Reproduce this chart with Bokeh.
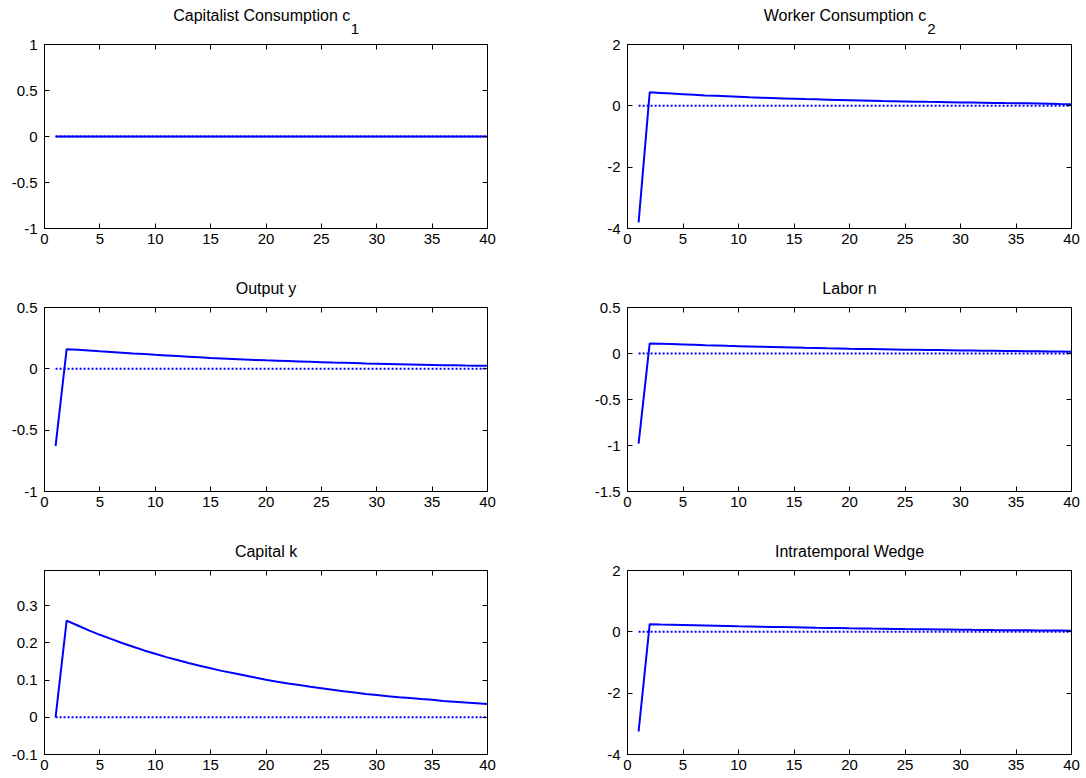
from bokeh.plotting import figure
from bokeh.layouts import column, row
from bokeh.models import Range1d, LinearAxis, FixedTicker, NumeralTickFormatter, Title
from bokeh.embed import file_html
from bokeh.resources import INLINE

# ---- data (impulse responses, periods 1..40) ----
periods = list(range(1, 41))
zero_line = [0] * 40

c1 = [0] * 40
c2 = [-3.8, 0.44, 0.42, 0.40, 0.38, 0.36, 0.34, 0.325, 0.31, 0.295,
      0.28, 0.267, 0.255, 0.243, 0.232, 0.221, 0.211, 0.201, 0.192, 0.183,
      0.174, 0.166, 0.158, 0.151, 0.144, 0.137, 0.130, 0.124, 0.118, 0.112,
      0.106, 0.101, 0.096, 0.091, 0.088, 0.082, 0.075, 0.068, 0.061, 0.055]
output_y = [-0.63, 0.16, 0.155, 0.15, 0.143, 0.137, 0.131, 0.125, 0.12, 0.114,
            0.109, 0.104, 0.099, 0.094, 0.089, 0.085, 0.081, 0.077, 0.073, 0.069,
            0.066, 0.063, 0.06, 0.057, 0.054, 0.051, 0.049, 0.047, 0.044, 0.042,
            0.04, 0.038, 0.036, 0.034, 0.032, 0.030, 0.029, 0.027, 0.026, 0.025]
labor_n = [-0.98, 0.11, 0.106, 0.102, 0.098, 0.094, 0.09, 0.087, 0.083, 0.08,
           0.077, 0.074, 0.071, 0.068, 0.065, 0.062, 0.06, 0.057, 0.055, 0.052,
           0.05, 0.048, 0.046, 0.044, 0.042, 0.04, 0.038, 0.037, 0.035, 0.033,
           0.032, 0.03, 0.029, 0.027, 0.026, 0.025, 0.024, 0.022, 0.021, 0.02]
capital_k = [0.0, 0.26, 0.247, 0.234, 0.222, 0.211, 0.200, 0.190, 0.180, 0.171,
             0.162, 0.154, 0.146, 0.139, 0.132, 0.125, 0.119, 0.113, 0.107, 0.101,
             0.096, 0.091, 0.087, 0.082, 0.078, 0.074, 0.070, 0.067, 0.063, 0.060,
             0.057, 0.054, 0.052, 0.049, 0.047, 0.044, 0.042, 0.040, 0.038, 0.036]
wedge = [-3.25, 0.25, 0.24, 0.232, 0.224, 0.215, 0.207, 0.199, 0.191, 0.183,
         0.176, 0.168, 0.161, 0.154, 0.147, 0.141, 0.134, 0.128, 0.122, 0.116,
         0.111, 0.105, 0.1, 0.095, 0.09, 0.086, 0.081, 0.077, 0.073, 0.069,
         0.065, 0.062, 0.058, 0.055, 0.052, 0.049, 0.046, 0.043, 0.041, 0.038]

titles = ["Capitalist Consumption c", "Worker Consumption c",
          "Output y", "Labor n", "Capital k", "Intratemporal Wedge"]
subscripts = ["1", "2", "", "", "", ""]
x_ticks = [0, 5, 10, 15, 20, 25, 30, 35, 40]
y_limits = [(-1, 1), (-4, 2), (-1, 0.5), (-1.5, 0.5), (-0.1, 0.395), (-4, 2)]
y_ticks = [[-1, -0.5, 0, 0.5, 1], [-4, -2, 0, 2], [-1, -0.5, 0, 0.5],
           [-1.5, -1, -0.5, 0, 0.5], [-0.1, 0, 0.1, 0.2, 0.3], [-4, -2, 0, 2]]
series = [c1, c2, output_y, labor_n, capital_k, wedge]

FONT = "Liberation Sans"
FS = "15px"
TFS = "16px"
FRAME_H = 184
# approximate rendered widths (px) of the main title texts, used to place subscripts
title_w = [177, 163, 0, 0, 0, 0]
sub_w = 8.5


def style_axis(ax, ticks, show_labels=True):
    ax.ticker = FixedTicker(ticks=ticks)
    ax.formatter = NumeralTickFormatter(format="0.[0]")
    ax.axis_line_color = "black"
    ax.axis_line_width = 1
    ax.major_tick_line_color = "black"
    ax.major_tick_in = 5
    ax.major_tick_out = 0
    ax.minor_tick_line_color = None
    ax.major_label_text_font = FONT
    if show_labels:
        ax.major_label_text_font_size = FS
        ax.major_label_text_color = "black"
    else:
        ax.major_label_text_font_size = "1px"
        ax.major_label_text_color = None
        ax.major_label_standoff = 0


def panel(i):
    col = i % 2
    rw = i // 2
    fw = 443 if col == 0 else 444
    bl, br = (44, 56) if col == 0 else (84, 15)
    bt = 44
    bb = 35 if rw < 2 else 24
    ylo, yhi = y_limits[i]
    p = figure(frame_width=fw, frame_height=FRAME_H,
               x_range=Range1d(0, 40), y_range=Range1d(ylo, yhi),
               output_backend="svg", toolbar_location=None,
               min_border_left=bl, min_border_right=br,
               min_border_top=bt, min_border_bottom=bb,
               background_fill_color="white", border_fill_color="white")
    p.grid.visible = False
    p.outline_line_color = "black"
    p.outline_line_width = 1

    p.line(periods, zero_line, line_color="blue", line_width=2, line_dash="2 2")
    p.line(periods, series[i], line_color="blue", line_width=2)

    style_axis(p.xaxis[0], x_ticks)
    p.xaxis[0].major_label_standoff = 5
    style_axis(p.yaxis[0], y_ticks[i])
    p.yaxis[0].major_label_standoff = 7

    top = LinearAxis()
    style_axis(top, x_ticks, show_labels=False)
    p.add_layout(top, "above")
    right = LinearAxis()
    style_axis(right, y_ticks[i], show_labels=False)
    p.add_layout(right, "right")

    if subscripts[i]:
        total = title_w[i] + sub_w
        start = (fw - total) / 2.0
        sub = Title(text=subscripts[i], align="left", offset=start + title_w[i] + 0.5,
                    standoff=21, text_font=FONT, text_font_size="15px",
                    text_font_style="normal", text_color="black")
        p.add_layout(sub, "above")
        main = Title(text=titles[i], align="left", offset=start,
                     standoff=-25, text_font=FONT, text_font_size=TFS,
                     text_font_style="normal", text_color="black")
        p.add_layout(main, "above")
    else:
        main = Title(text=titles[i], align="center", standoff=21,
                     text_font=FONT, text_font_size=TFS,
                     text_font_style="normal", text_color="black")
        p.add_layout(main, "above")
    return p


plots = [panel(i) for i in range(6)]
layout = column(row(plots[0], plots[1]), row(plots[2], plots[3]), row(plots[4], plots[5]))

open("out.html", "w").write(file_html(layout, INLINE))
